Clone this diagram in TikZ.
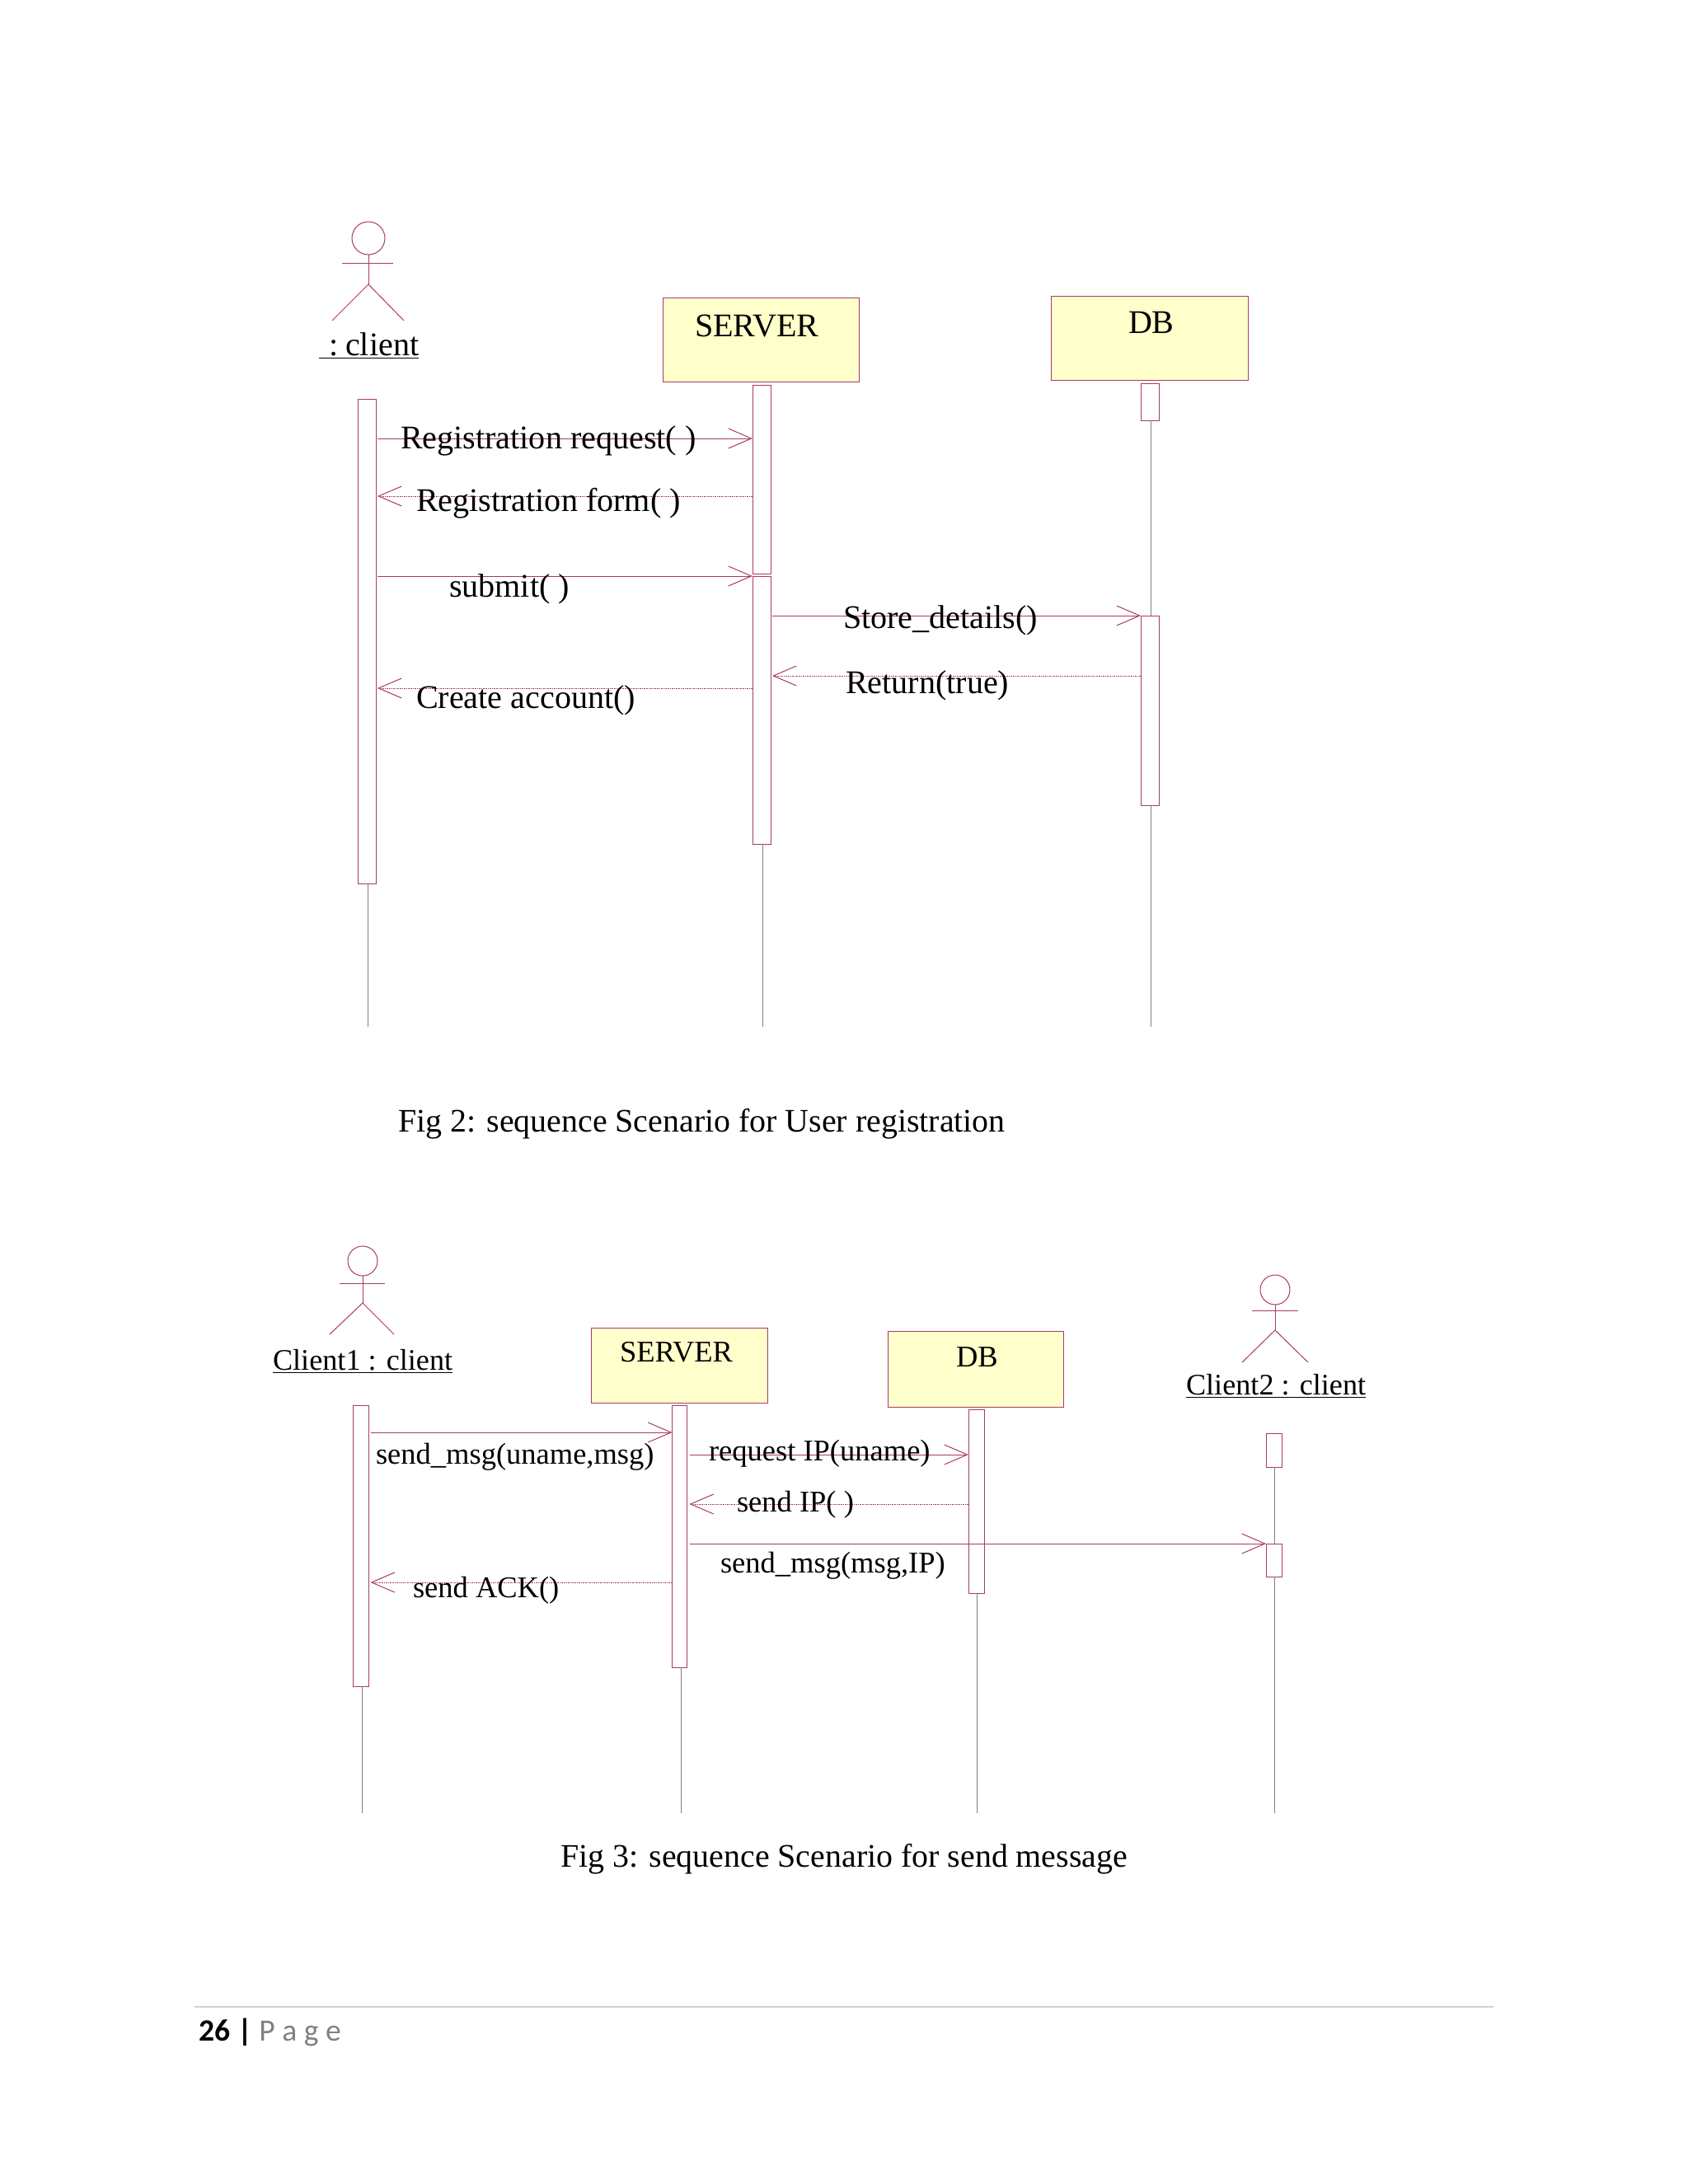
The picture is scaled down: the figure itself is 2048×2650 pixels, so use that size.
\documentclass[tikz,border=0pt]{standalone}
\usepackage{fontspec}
\setmainfont{Liberation Serif}
\newfontfamily\footfont{Carlito}
\usetikzlibrary{arrows.meta}
\definecolor{uml}{HTML}{A83A64}
\definecolor{umlfill}{HTML}{FFFFCC}
\definecolor{lifegrey}{HTML}{808080}
\tikzset{
  bigtxt/.style={anchor=base west,inner sep=0pt,outer sep=0pt,text=black,font=\fontsize{20.05}{24}\selectfont},
  smalltxt/.style={anchor=base west,inner sep=0pt,outer sep=0pt,text=black,font=\fontsize{18.25}{22}\selectfont},
  labeltxt/.style={anchor=base west,inner sep=0pt,outer sep=0pt,text=black,font=\fontsize{18.1}{22}\selectfont},
  captxt/.style={anchor=base west,inner sep=0pt,outer sep=0pt,text=black,font=\fontsize{19.95}{24}\selectfont},
  umlline/.style={draw=uml,line width=0.5pt},
  objbox/.style={umlline,fill=umlfill,rectangle,inner sep=0pt,outer sep=0pt},
  actbox/.style={umlline,fill=white,rectangle,inner sep=0pt,outer sep=0pt},
  headnode/.style={umlline,circle,inner sep=0pt,outer sep=0pt},
  lifeline/.style={draw=lifegrey,line width=0.32pt},
  sync/.style={umlline,-{Straight Barb[length=14pt,width=12pt]}},
  ret/.style={umlline,dash pattern=on 0.8pt off 0.5pt,-{Straight Barb[length=14pt,width=12pt]}},
}
% box from pixel corners
\newcommand{\pixbox}[6]{%
  \pgfmathsetmacro{\bw}{(#5-#3)*0.5}\pgfmathsetmacro{\bh}{(#6-#4)*0.5}%
  \node[#1,minimum width=\bw pt,minimum height=\bh pt] (#2) at ({(#3+#5)/2},{(#4+#6)/2}) {};}
% actor: prefix, x, y of head centre, diameter, armY, armL, armR, hipY, {legL}{legR}{legY}
\newcommand{\actor}[9]{%
  \pgfmathsetmacro{\hd}{#4}%
  \node[headnode,minimum size=\hd pt] (#1head) at (#2,#3) {};
  \coordinate (#1armL) at (#6,#5);
  \coordinate (#1armR) at (#7,#5);
  \coordinate (#1hip) at (#2,#8);
  \draw[umlline] (#1head.south) -- (#1hip);
  \draw[umlline] (#1armL) -- (#1armR);
  \actorlegs{#1}#9}
\newcommand{\actorlegs}[4]{%
  \coordinate (#1legL) at (#2,#4);
  \coordinate (#1legR) at (#3,#4);
  \draw[umlline] (#1legL) -- (#1hip) -- (#1legR);}
\begin{document}
\begin{tikzpicture}[x=0.5pt,y=-0.5pt]
\useasboundingbox[fill=white] (0,0) rectangle (2048,2650);

%% ---------- Fig 2 ----------
\actor{a}{447}{289}{20}{319}{415}{477}{345}{{403}{490}{389}}
\node[bigtxt] (alabel) at (387,431) {\underline{\hspace{0.3em}:\hspace{0.225em}client}};
\pixbox{objbox}{sbox}{804.5}{361.5}{1042.5}{463}
\node[bigtxt] (stext) at (843,408) {SERVER};
\pixbox{objbox}{dbox}{1275.5}{359}{1514}{461}
\node[bigtxt] (dtext) at (1369,404) {DB};

\coordinate (aend) at (446,1246);
\coordinate (send) at (925,1246);
\coordinate (dend) at (1396,1246);
\pixbox{actbox}{ca}{434}{484}{456}{1072}
\pixbox{actbox}{sa}{913}{467}{935}{696}
\pixbox{actbox}{sb}{913}{699}{935}{1024}
\pixbox{actbox}{da}{1384}{465}{1406}{510}
\pixbox{actbox}{db}{1384}{747}{1406}{977}
\draw[lifeline] (ca.south -| aend) -- (aend);
\draw[lifeline] (sb.south -| send) -- (send);
\draw[lifeline] (da.south -| dend) -- (db.north -| dend);
\draw[lifeline] (db.south -| dend) -- (dend);

\draw[sync,shorten <=1pt] (ca.east |- 0,532) -- (sa.west |- 0,532);
\draw[ret,shorten >=1pt] (sa.west |- 0,602) -- (ca.east |- 0,602);
\draw[sync,shorten <=1pt] (ca.east |- 0,699) -- (sb.west |- 0,699);
\draw[sync,shorten <=1pt] (sb.east |- 0,747) -- (db.west |- 0,747);
\draw[ret,shorten >=1pt] (db.west |- 0,820) -- (sb.east |- 0,820);
\draw[ret,shorten >=1pt] (sb.west |- 0,835) -- (ca.east |- 0,835);

\node[bigtxt] (m1) at (486,544) {Registration request( )};
\node[bigtxt] (m2) at (505,620) {Registration form( )};
\node[bigtxt] (m3) at (545,724) {submit( )};
\node[bigtxt] (m4) at (1023,762) {Store\_details()};
\node[bigtxt] (m5) at (1026,841) {Return(true)};
\node[bigtxt] (m6) at (505,859) {Create account()};
\node[captxt] (cap2) at (483,1373) {Fig 2: sequence Scenario for User registration};

%% ---------- Fig 3 ----------
\actor{b}{440}{1530}{18}{1557}{412}{467}{1581}{{400}{478}{1619}}
\node[labeltxt] (blabel) at (331,1662) {\underline{Client1 : client}};
\pixbox{objbox}{tbox}{717.5}{1611}{931.5}{1702}
\node[smalltxt] (ttext) at (752,1652) {SERVER};
\pixbox{objbox}{ebox}{1077.5}{1615}{1290.5}{1707}
\node[smalltxt] (etext) at (1160,1658) {DB};
\actor{c}{1547}{1565}{18}{1590}{1519}{1575}{1614}{{1507}{1587}{1653}}
\node[labeltxt] (clabel) at (1439,1692) {\underline{Client2 : client}};

\coordinate (bend) at (439.5,2200);
\coordinate (tend) at (826,2200);
\coordinate (eend) at (1185,2200);
\coordinate (fend) at (1546,2200);
\pixbox{actbox}{ba}{428.5}{1705}{447.5}{2046}
\pixbox{actbox}{ta}{815.5}{1705}{833.5}{2023}
\pixbox{actbox}{ea}{1175}{1710}{1194}{1933}
\pixbox{actbox}{fa}{1536}{1739}{1555}{1780}
\pixbox{actbox}{fb}{1536}{1873}{1555}{1913}
\draw[lifeline] (ba.south -| bend) -- (bend);
\draw[lifeline] (ta.south -| tend) -- (tend);
\draw[lifeline] (ea.south -| eend) -- (eend);
\draw[lifeline] (fa.south -| fend) -- (fb.north -| fend);
\draw[lifeline] (fb.south -| fend) -- (fend);

\draw[sync,shorten <=1pt] (ba.east |- 0,1738) -- (ta.west |- 0,1738);
\draw[sync,shorten <=1.5pt] (ta.east |- 0,1765) -- (ea.west |- 0,1765);
\draw[ret,shorten >=1.5pt] (ea.west |- 0,1825) -- (ta.east |- 0,1825);
\draw[sync,shorten <=1.5pt] (ta.east |- 0,1873) -- (fb.west |- 0,1873);
\draw[ret,shorten >=1pt] (ta.west |- 0,1920) -- (ba.east |- 0,1920);

\node[smalltxt] (n1) at (456,1776) {send\_msg(uname,msg)};
\node[smalltxt] (n2) at (860,1772) {request IP(uname)};
\node[smalltxt] (n3) at (894,1834) {send IP( )};
\node[smalltxt] (n4) at (874,1908) {send\_msg(msg,IP)};
\node[smalltxt] (n5) at (501,1938) {send ACK()};
\node[captxt] (cap3) at (680,2265) {Fig 3: sequence Scenario for send message};

%% ---------- footer ----------
\coordinate (footL) at (236,2435);
\coordinate (footR) at (1812,2435);
\draw[draw=black!18,line width=0.8pt] (footL) -- (footR);
\node[anchor=base west,inner sep=0pt,font=\footfont\fontsize{18.8}{22}\selectfont] (foot) at (241,2476)
  {\textbf{26 |} \textcolor{black!50}{P a g e}};
\end{tikzpicture}
\end{document}
